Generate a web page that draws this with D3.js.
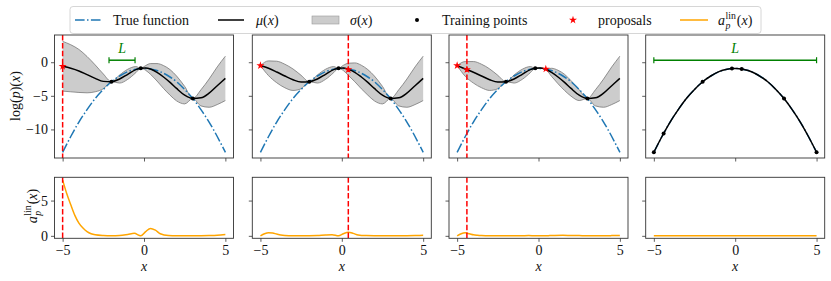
<!DOCTYPE html>
<html>
<head>
<meta charset="utf-8">
<script src="https://cdn.jsdelivr.net/npm/d3@7"></script>
<style>
  body { margin: 0; background: #fff; }
  svg text { font-family: "Liberation Serif", "DejaVu Serif", serif; font-size: 14px; fill: #111; }
</style>
</head>
<body>
<svg id="chart" width="831" height="281"></svg>
<script>
// ---- data ----
const gridX = [-5, -4.5, -4, -3.5, -3, -2.5, -2, -1.5, -1, -0.5, -0.2, 0.1, 0.4, 0.8, 1.2, 1.6, 2, 2.5, 3, 3.5, 4, 4.5, 5];

const trueY = [-13.4, -11.05, -8.9, -7.05, -5.4, -4.05, -2.9, -2.05, -1.4, -1.05, -0.94, -0.92, -1.0, -1.24, -1.64, -2.2, -2.9, -4.05, -5.4, -7.05, -8.9, -11.05, -13.4];

const mean1 = [-0.6, -0.9, -1.3, -1.85, -2.4, -2.85, -2.9, -2.5, -1.8, -1.1, -0.9, -0.85, -1.0, -1.5, -2.2, -3.0, -3.9, -4.9, -5.4, -5.3, -4.6, -3.5, -2.4];
const sd1   = [3.7, 3.5, 3.2, 2.7, 2.0, 1.1, 0, 0.6, 0.75, 0.45, 0, 0.35, 0.8, 1.3, 1.7, 1.9, 1.85, 1.3, 0, 1.2, 2.1, 2.8, 3.3];
const mean2 = [-0.5, -0.9, -1.45, -2.05, -2.6, -2.95, -2.9, -2.5, -1.8, -1.1, -0.9, -0.85, -1.05, -1.5, -2.2, -3.0, -3.9, -4.9, -5.4, -5.3, -4.6, -3.5, -2.4];
const sd2   = [0, 1.1, 1.6, 1.75, 1.6, 1.0, 0, 0.6, 0.75, 0.45, 0, 0.4, 0.9, 1.4, 1.75, 1.9, 1.85, 1.3, 0, 1.2, 2.1, 2.8, 3.3];
const mean3 = [-0.5, -1.0, -1.5, -2.05, -2.6, -2.95, -2.9, -2.5, -1.8, -1.1, -0.9, -0.85, -1.0, -1.5, -2.2, -3.0, -3.9, -4.9, -5.4, -5.3, -4.6, -3.5, -2.4];
const sd3   = [0, 1.1, 1.6, 1.75, 1.6, 1.0, 0, 0.6, 0.75, 0.45, 0, 0.05, 0, 0.6, 1.0, 1.2, 1.15, 0.8, 0, 1.2, 2.1, 2.8, 3.3];
const mean4 = [-13.4, -11.05, -8.9, -7.05, -5.4, -4.05, -2.9, -2.05, -1.4, -1.05, -0.94, -0.92, -1.0, -1.24, -1.64, -2.2, -2.9, -4.05, -5.4, -7.05, -8.9, -11.05, -13.4];
const sd4   = [0, 0, 0, 0, 0, 0, 0, 0, 0, 0, 0, 0, 0, 0, 0, 0, 0, 0, 0, 0, 0, 0, 0];

const trainX = [[-2, -0.2, 3], [-2, -0.2, 3], [-2, -0.2, 3], [-5, -4.4, -2, -0.2, 0.4, 3, 5]];
const trainY = [[-2.9, -0.9, -5.4], [-2.9, -0.9, -5.4], [-2.9, -0.9, -5.4], [-13.4, -10.6, -2.9, -0.92, -1.0, -5.4, -13.4]];
const proposalX = [[-5], [-5, 0.4], [-5, -4.4, 0.45], []];
const proposalY = [[-0.6], [-0.5, -1.1], [-0.5, -1.1, -1.0], []];
const currentProposal = [-5, 0.4, -4.4, null];
const lengthScale = [[-2.15, -0.55], null, null, [-5, 5]];
const lengthScaleY = 0.3;

const acqX = [-5, -4.75, -4.5, -4.25, -4, -3.75, -3.5, -3.25, -3, -2.5, -2, -1.5, -1, -0.6, -0.2, 0.1, 0.4, 0.7, 1, 1.5, 2, 2.5, 3, 3.5, 4, 4.5, 5];
const acq1 = [7.9, 6.0, 4.4, 2.9, 1.8, 1.1, 0.6, 0.3, 0.15, 0.05, 0.02, 0.05, 0.2, 0.35, 0.0, 0.6, 1.05, 0.8, 0.3, 0.05, 0.02, 0.02, 0.0, 0.02, 0.05, 0.1, 0.2];
const acq2 = [0, 0.3, 0.45, 0.4, 0.25, 0.12, 0.05, 0.02, 0.01, 0.01, 0.02, 0.05, 0.12, 0.15, 0.0, 0.3, 0.5, 0.35, 0.12, 0.03, 0.01, 0.01, 0.0, 0.01, 0.02, 0.04, 0.07];
const acq3 = [0, 0.3, 0.42, 0.3, 0.15, 0.08, 0.04, 0.02, 0.01, 0.01, 0.01, 0.01, 0.02, 0.03, 0.0, 0.02, 0.0, 0.03, 0.06, 0.08, 0.05, 0.03, 0.0, 0.02, 0.02, 0.03, 0.05];
const acq4 = [0, 0, 0, 0, 0, 0, 0, 0, 0, 0, 0, 0, 0, 0, 0, 0, 0, 0, 0, 0, 0, 0, 0, 0, 0, 0, 0];

const xTicks = [-5, 0, 5];
const yTicksTop = [0, -5, -10];
const yTicksBot = [0, 5];

const means = [mean1, mean2, mean3, mean4];
const sds = [sd1, sd2, sd3, sd4];
const acqs = [acq1, acq2, acq3, acq4];

// ---- layout ----
const svg = d3.select('#chart');
const panelLeft = [54.5, 252.3, 449, 645.7];
const panelW = 179;
const topY = [35, 158];
const botY = [177.3, 238.3];

const yTop = d3.scaleLinear().domain([-14.25, 4.05]).range([topY[1], topY[0]]);
const yBot = d3.scaleLinear().domain([-0.35, 8.3]).range([botY[1], botY[0]]);

const BLUE = '#1f77b4', RED = '#ff0000', ORANGE = '#ffa500', GREEN = '#008000';

function drawAxes(g, x, y, y0, y1, left, showXLabels, showYLabels, yTicks) {
  let ax = g.append('g').attr('transform', `translate(0,${y1})`)
    .call(d3.axisBottom(x).tickValues(xTicks).tickSize(3.5).tickPadding(3)
      .tickFormat(showXLabels ? d3.format('d') : ''));
  let ay = g.append('g').attr('transform', `translate(${left},0)`)
    .call(d3.axisLeft(y).tickValues(yTicks).tickSize(3.5).tickPadding(3)
      .tickFormat(showYLabels ? d3.format('d') : ''));
  [ax, ay].forEach((a) => {
    a.select('.domain').remove();
    a.selectAll('line').attr('stroke', '#333').attr('stroke-width', 0.8);
    a.selectAll('text').attr('font-size', null).attr('font-family', null)
      .style('font-size', '14px').style('fill', '#111');
  });
  g.append('rect').attr('x', left).attr('y', y0)
    .attr('width', panelW).attr('height', y1 - y0)
    .attr('fill', 'none').attr('stroke', '#333').attr('stroke-width', 0.9);
}

function star(sel, cx, cy) {
  sel.append('path').attr('d', d3.symbol(d3.symbolStar, 20)())
    .attr('transform', `translate(${cx},${cy})`).attr('fill', RED);
}

panelLeft.forEach((left, i) => {
  const x = d3.scaleLinear().domain([-5.5, 5.5]).range([left, left + panelW]);
  const g = svg.append('g');

  // clip paths
  g.append('clipPath').attr('id', `ct${i}`).append('rect')
    .attr('x', left).attr('y', topY[0]).attr('width', panelW).attr('height', topY[1] - topY[0]);
  g.append('clipPath').attr('id', `cb${i}`).append('rect')
    .attr('x', left).attr('y', botY[0]).attr('width', panelW).attr('height', botY[1] - botY[0]);

  // ----- top panel -----
  const top = g.append('g').attr('clip-path', `url(#ct${i})`);
  const pts = gridX.map((gx, k) => ({ x: gx, m: means[i][k], s: sds[i][k], t: trueY[k] }));

  const area = d3.area().x((d) => x(d.x)).y0((d) => yTop(d.m - d.s)).y1((d) => yTop(d.m + d.s))
    .curve(d3.curveMonotoneX);
  top.append('path').datum(pts).attr('d', area).attr('fill', '#808080').attr('fill-opacity', 0.4);
  if (d3.max(sds[i]) > 0) {
    [1, -1].forEach((sgn) => {
      top.append('path').datum(pts)
        .attr('d', d3.line().x((d) => x(d.x)).y((d) => yTop(d.m + sgn * d.s)).curve(d3.curveMonotoneX))
        .attr('fill', 'none').attr('stroke', '#777').attr('stroke-width', 0.8);
    });
  }

  top.append('path').datum(pts)
    .attr('d', d3.line().x((d) => x(d.x)).y((d) => yTop(d.t)).curve(d3.curveNatural))
    .attr('fill', 'none').attr('stroke', BLUE).attr('stroke-width', 1.5)
    .attr('stroke-dasharray', '9.6,2.4,1.5,2.4');

  top.append('path').datum(pts)
    .attr('d', d3.line().x((d) => x(d.x)).y((d) => yTop(d.m)).curve(d3.curveMonotoneX))
    .attr('fill', 'none').attr('stroke', '#000').attr('stroke-width', 1.5);

  trainX[i].forEach((tx, k) => {
    top.append('circle').attr('cx', x(tx)).attr('cy', yTop(trainY[i][k])).attr('r', 2).attr('fill', '#000');
  });
  proposalX[i].forEach((px, k) => star(top, x(px), yTop(proposalY[i][k])));

  if (currentProposal[i] !== null) {
    top.append('line').attr('x1', x(currentProposal[i])).attr('x2', x(currentProposal[i]))
      .attr('y1', topY[0]).attr('y2', topY[1])
      .attr('stroke', RED).attr('stroke-width', 1.5).attr('stroke-dasharray', '5.5,2.4');
  }

  if (lengthScale[i]) {
    const [a, b] = lengthScale[i];
    const ly = yTop(lengthScaleY);
    g.append('line').attr('x1', x(a)).attr('x2', x(b)).attr('y1', ly).attr('y2', ly)
      .attr('stroke', GREEN).attr('stroke-width', 1.5);
    [a, b].forEach((v) => {
      g.append('line').attr('x1', x(v)).attr('x2', x(v)).attr('y1', ly - 3).attr('y2', ly + 3)
        .attr('stroke', GREEN).attr('stroke-width', 1.2);
    });
    g.append('text').attr('x', x((a + b) / 2)).attr('y', ly - 7).attr('text-anchor', 'middle')
      .style('font-style', 'italic').style('fill', GREEN).text('L');
  }

  drawAxes(g, x, yTop, topY[0], topY[1], left, false, i === 0, yTicksTop);

  // ----- bottom panel -----
  const bot = g.append('g').attr('clip-path', `url(#cb${i})`);
  const ap = acqX.map((ax, k) => ({ x: ax, v: acqs[i][k] }));
  bot.append('path').datum(ap)
    .attr('d', d3.line().x((d) => x(d.x)).y((d) => yBot(d.v)).curve(d3.curveMonotoneX))
    .attr('fill', 'none').attr('stroke', ORANGE).attr('stroke-width', 1.5);
  if (currentProposal[i] !== null) {
    bot.append('line').attr('x1', x(currentProposal[i])).attr('x2', x(currentProposal[i]))
      .attr('y1', botY[0]).attr('y2', botY[1])
      .attr('stroke', RED).attr('stroke-width', 1.5).attr('stroke-dasharray', '5.5,2.4');
  }
  drawAxes(g, x, yBot, botY[0], botY[1], left, true, i === 0, yTicksBot);

  g.append('text').attr('x', left + panelW / 2).attr('y', 271).attr('text-anchor', 'middle')
    .style('font-style', 'italic').text('x');
});

// ---- y labels ----
const lt = svg.append('text').attr('transform', 'translate(20,96) rotate(-90)').attr('text-anchor', 'middle');
lt.append('tspan').text('log(');
lt.append('tspan').style('font-style', 'italic').text('p');
lt.append('tspan').text(')(');
lt.append('tspan').style('font-style', 'italic').text('x');
lt.append('tspan').text(')');

function apLabel(g, fs) {
  const a = g.append('text').attr('x', 0).attr('y', 0).style('font-style', 'italic').style('font-size', fs + 'px').text('a');
  const wa = a.node().getComputedTextLength();
  const sup = g.append('text').attr('x', wa + 0.5).attr('y', -fs * 0.42).style('font-size', fs * 0.7 + 'px').text('lin');
  const sub = g.append('text').attr('x', wa + 0.5).attr('y', fs * 0.3).style('font-style', 'italic').style('font-size', fs * 0.7 + 'px').text('p');
  const w2 = wa + 0.5 + Math.max(sup.node().getComputedTextLength(), sub.node().getComputedTextLength()) + 1;
  const rest = g.append('text').attr('x', w2).attr('y', 0).style('font-size', fs + 'px');
  rest.append('tspan').text('(');
  rest.append('tspan').style('font-style', 'italic').text('x');
  rest.append('tspan').text(')');
  return w2 + rest.node().getComputedTextLength();
}

const lb = svg.append('g').attr('transform', 'translate(37,206) rotate(-90)');
const lbInner = lb.append('g');
const lbw = apLabel(lbInner, 14);
lbInner.attr('transform', `translate(${-lbw / 2},0)`);

// ---- legend ----
const legend = svg.append('g');
legend.append('rect').attr('x', 70).attr('y', 6.5).attr('width', 691).attr('height', 27).attr('rx', 3)
  .attr('fill', '#fff').attr('fill-opacity', 0.8).attr('stroke', '#ccc').attr('stroke-width', 0.8);

const legendLabels = ['True function', 'mu', 'sigma', 'Training points', 'proposals', 'ap'];
const legendStart = [75, 218, 312, 404, 560, 680];
const ly = 20;
legendLabels.forEach((lab, k) => {
  const hx = legendStart[k];
  if (k === 0) {
    legend.append('line').attr('x1', hx).attr('x2', hx + 26).attr('y1', ly).attr('y2', ly)
      .attr('stroke', BLUE).attr('stroke-width', 1.5).attr('stroke-dasharray', '9.6,2.4,1.5,2.4');
  } else if (k === 1) {
    legend.append('line').attr('x1', hx).attr('x2', hx + 26).attr('y1', ly).attr('y2', ly)
      .attr('stroke', '#000').attr('stroke-width', 1.5);
  } else if (k === 2) {
    legend.append('rect').attr('x', hx).attr('y', ly - 4).attr('width', 27).attr('height', 8)
      .attr('fill', '#808080').attr('fill-opacity', 0.4).attr('stroke', '#999').attr('stroke-width', 0.6);
  } else if (k === 3) {
    legend.append('circle').attr('cx', hx + 13).attr('cy', ly).attr('r', 2).attr('fill', '#000');
  } else if (k === 4) {
    star(legend, hx + 13, ly);
  } else {
    legend.append('line').attr('x1', hx).attr('x2', hx + 28).attr('y1', ly).attr('y2', ly)
      .attr('stroke', ORANGE).attr('stroke-width', 1.5);
  }
  const tx = hx + 38;
  if (lab === 'mu' || lab === 'sigma') {
    const t = legend.append('text').attr('x', tx).attr('y', ly + 4.5);
    t.append('tspan').style('font-style', 'italic').text(lab === 'mu' ? 'μ' : 'σ');
    t.append('tspan').text('(');
    t.append('tspan').style('font-style', 'italic').text('x');
    t.append('tspan').text(')');
  } else if (lab === 'ap') {
    apLabel(legend.append('g').attr('transform', `translate(${tx},${ly + 4.5})`), 14);
  } else {
    legend.append('text').attr('x', tx).attr('y', ly + 4.5).text(lab);
  }
});
</script>
</body>
</html>
